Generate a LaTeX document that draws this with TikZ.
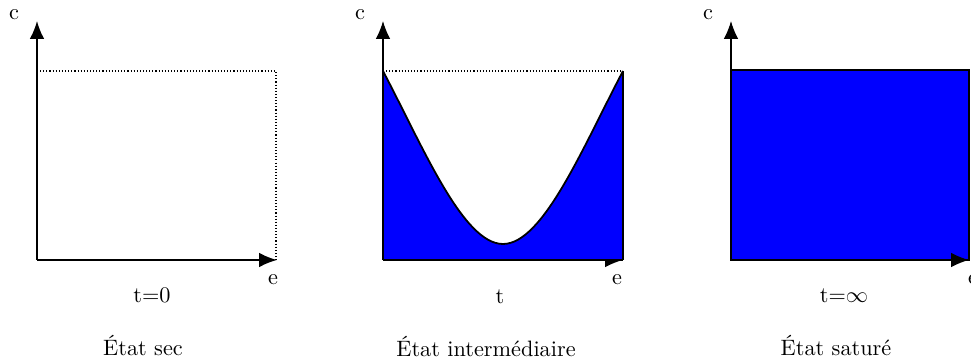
\documentclass[tikz,border=0pt]{standalone}
\usetikzlibrary{arrows.meta}
\begin{document}
\begin{tikzpicture}[x=0.449pt,y=-0.449pt,
  axis/.style={line width=0.6pt,-{Latex[length=8pt,width=6.5pt]}},
  guide/.style={dash pattern=on 0.5pt off 0.9pt,line width=0.5pt},
  lbl/.style={inner sep=0pt,anchor=center},
  water/.style={fill=blue,draw=black,line width=0.7pt}]
\useasboundingbox (0,0) rectangle (971,358);
% ---------- Panel 1 ----------
\coordinate (o1) at (37,260);
\coordinate (y1) at (37,21);
\coordinate (x1) at (277,260);
\coordinate (t1) at (37,71);
\coordinate (r1) at (276,71);
\coordinate (b1) at (276,260);
\draw[guide] (t1) -- (r1) -- (b1);
\draw[axis,line width=0.75pt] (o1) -- (y1);
\draw[axis,line width=0.75pt] (o1) -- (x1);
\node[lbl] (c1) at (14,15) {c};
\node[lbl] (e1) at (273,280) {e};
\node[lbl] (s1) at (152,295) {t=0};
\node[lbl] (n1) at (143,346) {État sec};
% ---------- Panel 2 ----------
\coordinate (o2) at (383,260);
\coordinate (y2) at (383,21);
\coordinate (x2) at (623,260);
\coordinate (t2) at (383,71);
\coordinate (r2) at (623,71);
\coordinate (m2) at (503,244);
\draw[axis] (o2) -- (y2);
\draw[axis] (o2) -- (x2);
\draw[guide] (t2) -- (r2);
\fill[blue] (o2) -- (t2) .. controls (423,147) and (463,244) .. (m2)
  .. controls (543,244) and (583,147) .. (r2) -- (x2) -- cycle;
\draw[line width=0.8pt] (t2) .. controls (423,147) and (463,244) .. (m2)
  .. controls (543,244) and (583,147) .. (r2);
\draw[line width=0.6pt] (o2) -- (t2);
\draw[line width=0.6pt] (x2) -- (r2);
\draw[line width=0.6pt] (o2) -- (x2);
\node[lbl] (c2) at (360,15) {c};
\node[lbl] (e2) at (617,280) {e};
\node[lbl] (s2) at (500,297) {t};
\node[lbl] (n2) at (486,347) {État intermédiaire};
% ---------- Panel 3 ----------
\coordinate (o3) at (731,260);
\coordinate (y3) at (731,21);
\coordinate (x3) at (969,260);
\coordinate (t3) at (731,70);
\coordinate (r3) at (969,70);
\draw[axis] (o3) -- (y3);
\draw[water] (o3) rectangle (r3);
\draw[axis] (o3) -- (x3);
\node[lbl] (c3) at (708,15) {c};
\node[lbl] (e3) at (973,280) {e};
\node[lbl] (s3) at (844,296) {t=$\infty$};
\node[lbl] (n3) at (836,346) {État saturé};
\end{tikzpicture}
\end{document}
